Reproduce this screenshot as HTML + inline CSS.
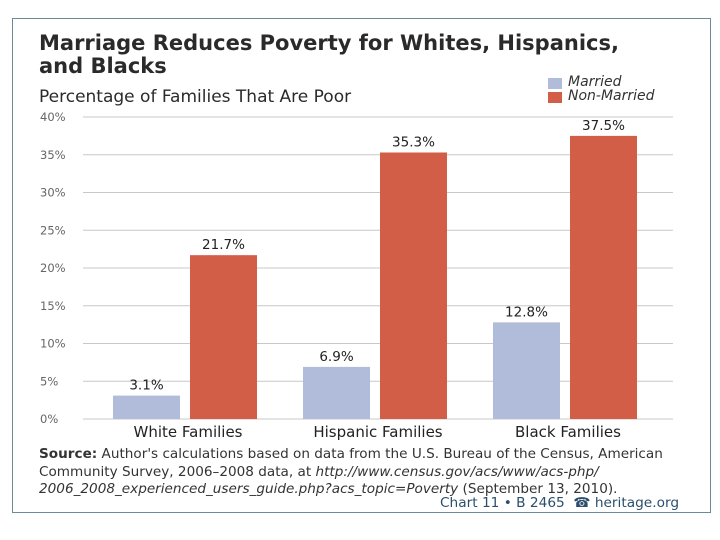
<!DOCTYPE html>
<html><head><meta charset="utf-8"><style>
body{margin:0;background:#fff;font-family:"DejaVu Sans","Liberation Sans",sans-serif;}
#c{position:relative;width:720px;height:540px;overflow:hidden;background:#fff}
.t{position:absolute;white-space:nowrap;color:#222}
</style></head><body>
<div id="c">
<div style="position:absolute;left:12px;top:18px;width:699px;height:495px;border:1px solid #6d8a99;box-sizing:border-box"></div>
<div class="t" style="left:39px;top:32px;font-size:21px;font-weight:bold;line-height:23px;color:#2a2a2a">Marriage Reduces Poverty for Whites, Hispanics,<br>and Blacks</div>
<div class="t" style="left:39px;top:87px;font-size:17px;color:#2a2a2a">Percentage of Families That Are Poor</div>
<div style="position:absolute;left:548px;top:78px;width:14px;height:11px;background:#b0bcd9"></div>
<div class="t" style="left:568px;top:74px;font-size:14px;font-style:italic;color:#333">Married</div>
<div style="position:absolute;left:548px;top:92px;width:14px;height:11px;background:#d25e48"></div>
<div class="t" style="left:568px;top:88px;font-size:14px;font-style:italic;color:#333">Non-Married</div>
<svg id="s" width="720" height="540" style="position:absolute;left:0;top:0"></svg>
<div class="t" style="left:39px;top:446px;font-size:13.6px;line-height:17.5px;color:#333">
<b style="font-weight:600">Source:</b> Author's calculations based on data from the U.S. Bureau of the Census, American<br>Community Survey, 2006–2008 data, at <i>http://www.census.gov/acs/www/acs-php/</i><br><i>2006_2008_experienced_users_guide.php?acs_topic=Poverty</i> (September 13, 2010).</div>
<div class="t" style="left:440px;top:495px;font-size:13.7px;color:#2c4e6b">Chart 11 • B 2465 &nbsp;☎ heritage.org</div>
</div>
<script>
const categories=["White Families","Hispanic Families","Black Families"];
const married=[3.1,6.9,12.8];
const nonMarried=[21.7,35.3,37.5];
const ticks=[0,5,10,15,20,25,30,35,40];
const NS="http://www.w3.org/2000/svg",s=document.getElementById('s');
const y=v=>419-v*7.55, cx=i=>185+i*190;
function mk(t,a,txt){const e=document.createElementNS(NS,t);for(const k in a)e.setAttribute(k,a[k]);if(txt!=null)e.textContent=txt;s.appendChild(e);return e;}
ticks.forEach(v=>{
 const l=mk('line',{x1:83,x2:673,y1:y(v),y2:y(v),stroke:'#c8c8c8','stroke-width':1});
 
 
 const t=mk('text',{x:40,y:y(v)+4,'font-size':11.5,fill:'#666','font-family':'DejaVu Sans,sans-serif'},v+'%');
 
 
});
categories.forEach((c,i)=>{
 const bars=[[married[i],cx(i)-72,'#b0bcd9','married'],[nonMarried[i],cx(i)+5,'#d25e48','non-married']];
 bars.forEach(([v,x,col,n])=>{
  const r=mk('rect',{x:x,y:y(v),width:67,height:y(0)-y(v),fill:col});
  
  
  const t=mk('text',{x:x+33.5,y:y(v)-6,'text-anchor':'middle','font-size':13.5,fill:'#222','font-family':'DejaVu Sans,sans-serif'},v.toFixed(1)+'%');
  
  
 });
 const t=mk('text',{x:cx(i)+3,y:437,'text-anchor':'middle','font-size':15,fill:'#222','font-family':'DejaVu Sans,sans-serif'},c);
 
 
});
</script>
</body></html>
